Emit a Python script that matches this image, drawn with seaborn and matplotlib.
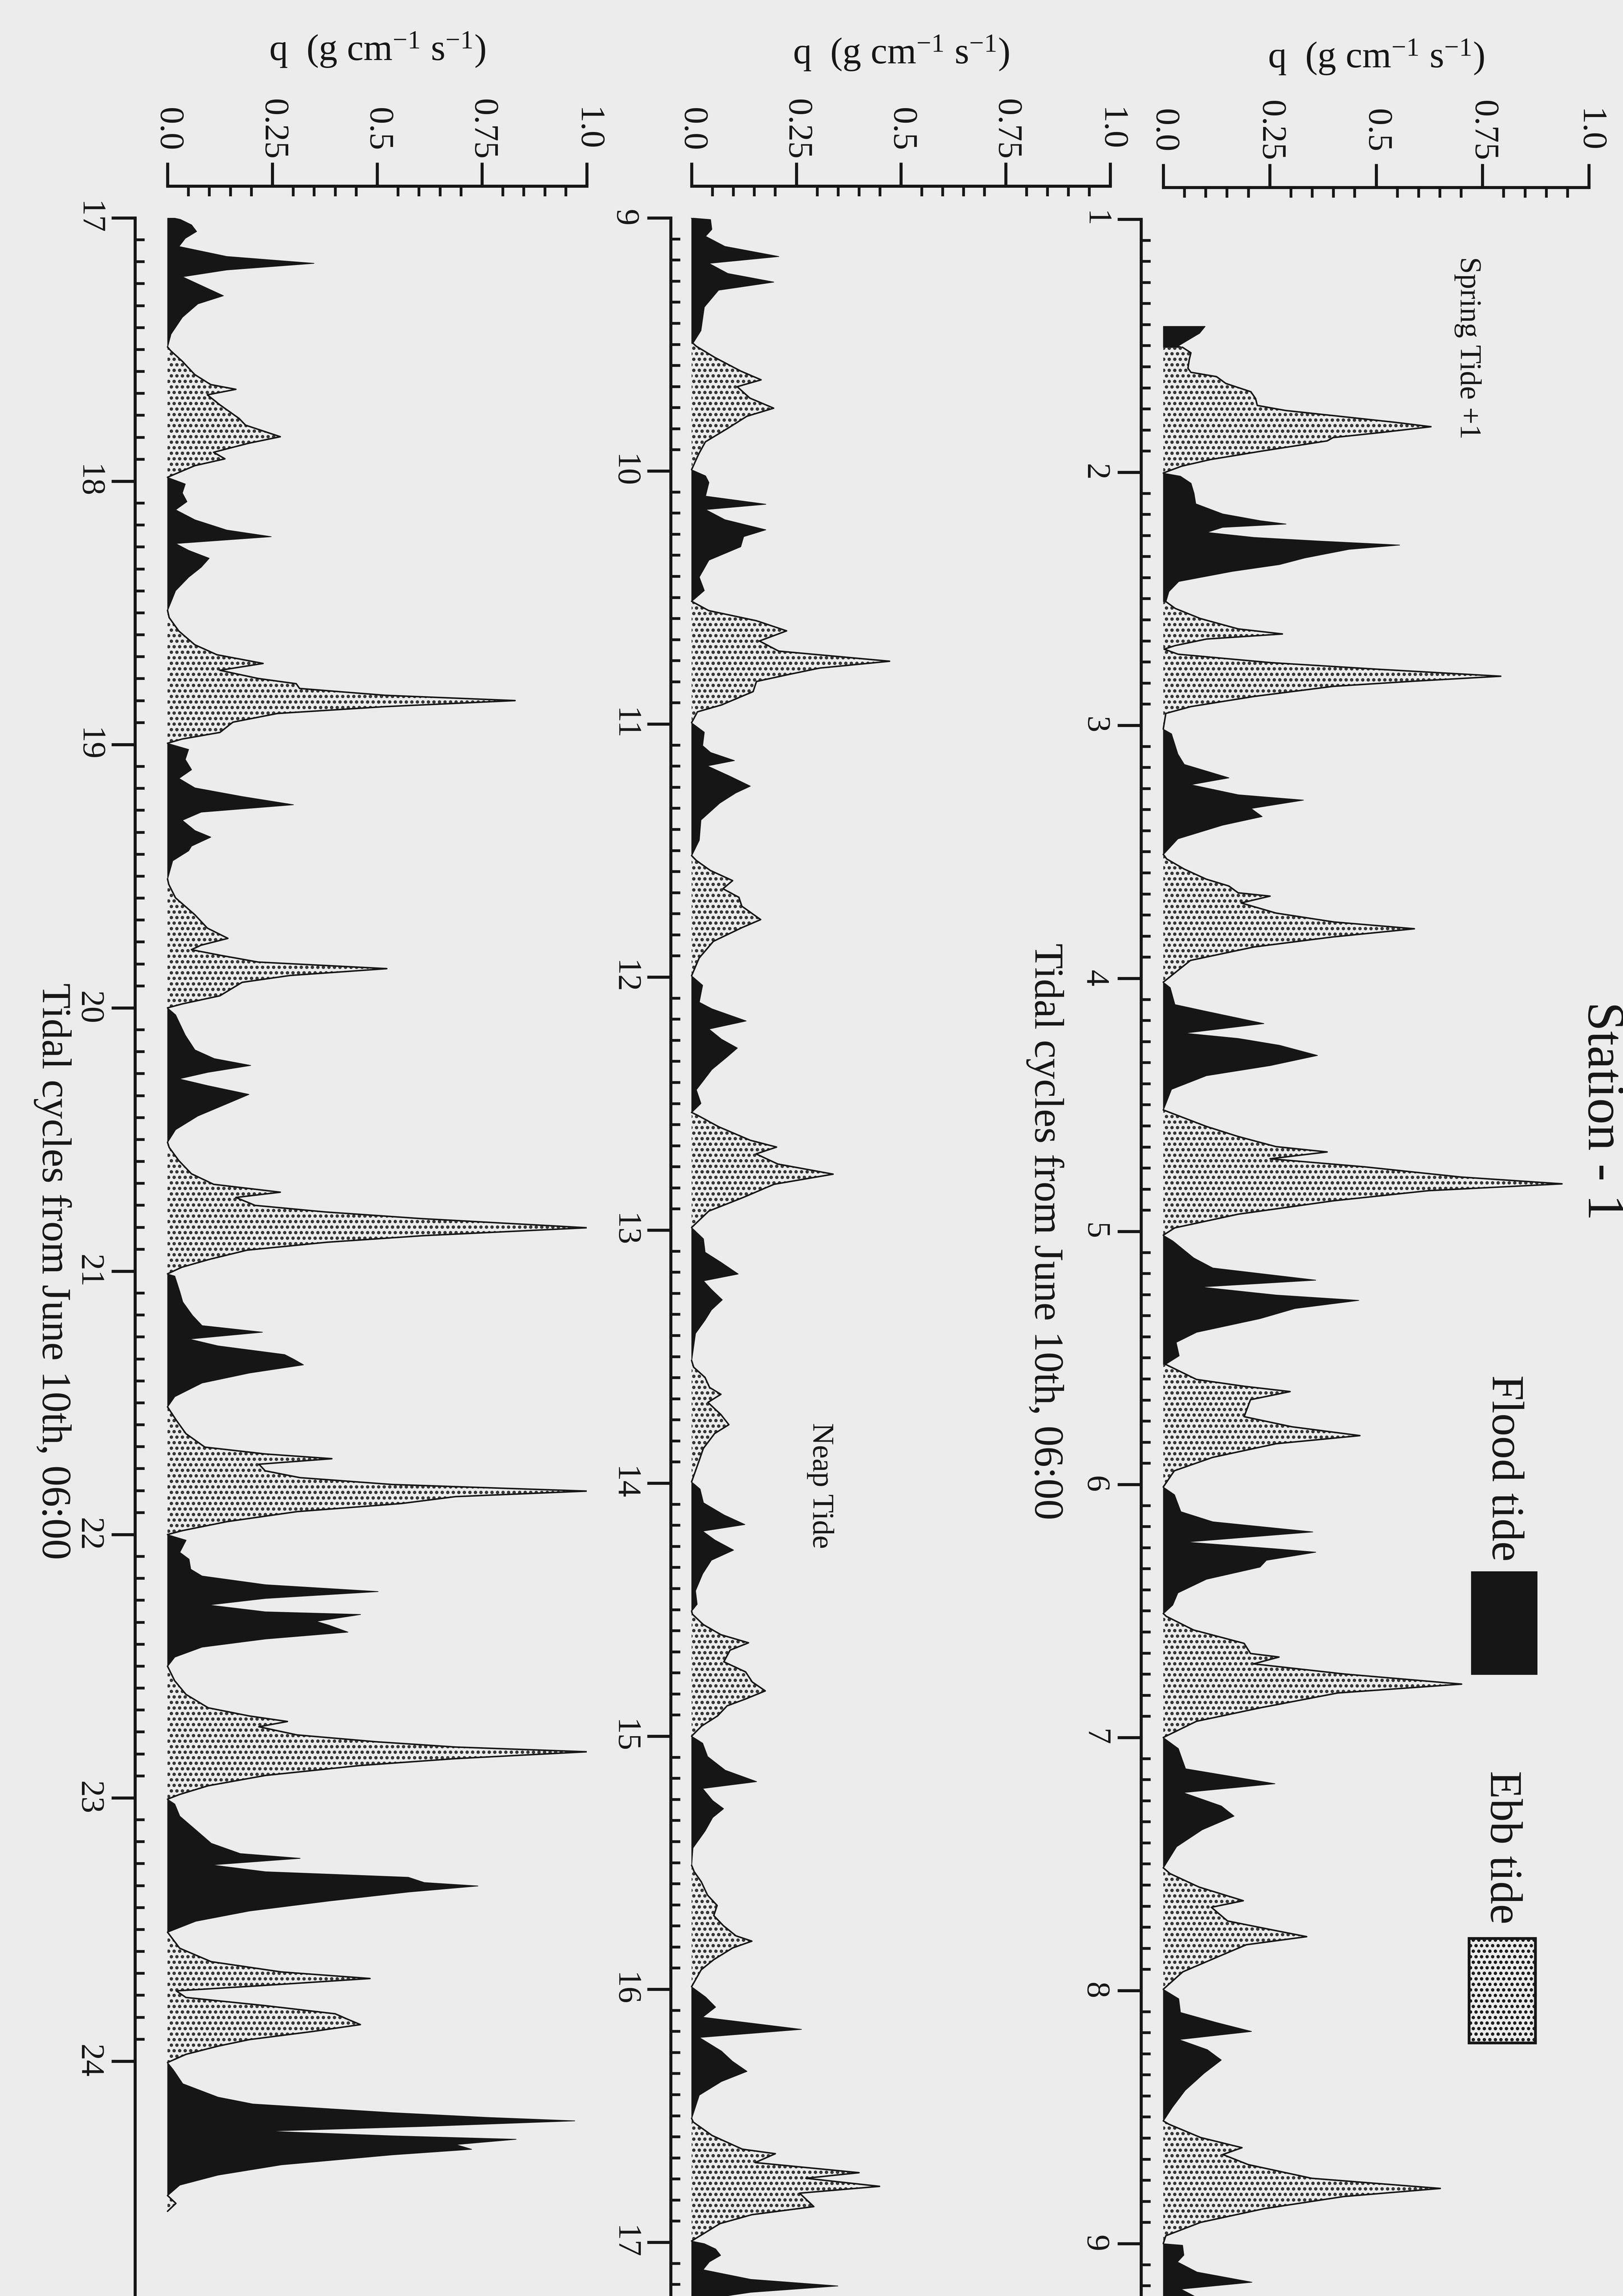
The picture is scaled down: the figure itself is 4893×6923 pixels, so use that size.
import numpy as np
import matplotlib
matplotlib.use("Agg")
import matplotlib.pyplot as plt
from matplotlib.patches import Rectangle
from matplotlib.ticker import FixedLocator, FixedFormatter
import seaborn as sns

# Sediment transport rate q (g cm-1 s-1) against time in tidal cycles
# (cycle 1 = June 10th, 06:00).  One line per flood or ebb half-cycle.
cycle_a = [
    1.423, 1.45, 1.475, 1.50, 1.506, 1.528, 1.555, 1.589, 1.605, 1.622, 1.649, 1.682, 1.709, 1.736, 1.756, 1.776, 1.803, 1.820, 1.843, 1.863, 1.876, 1.917, 1.950, 1.976, 2.003,
    2.015, 2.043, 2.083, 2.124, 2.164, 2.191, 2.204, 2.217, 2.237, 2.257, 2.271, 2.287, 2.304, 2.338, 2.364, 2.391, 2.431, 2.471, 2.511,
    2.538, 2.578, 2.619, 2.639, 2.659, 2.685, 2.699, 2.719, 2.752, 2.779, 2.806, 2.826, 2.846, 2.886, 2.926, 2.953, 3.015,
    3.033, 3.113, 3.154, 3.207, 3.234, 3.274, 3.295, 3.328, 3.360, 3.394, 3.448, 3.51,
    3.528, 3.568, 3.608, 3.635, 3.662, 3.675, 3.702, 3.742, 3.777, 3.804, 3.836, 3.876, 3.929, 4.015,
    4.036, 4.103, 4.130, 4.178, 4.216, 4.237, 4.264, 4.304, 4.344, 4.384, 4.438, 4.52,
    4.585, 4.625, 4.665, 4.686, 4.713, 4.745, 4.785, 4.812, 4.839, 4.879, 4.932, 4.986, 5.015,
    5.037, 5.104, 5.144, 5.192, 5.219, 5.251, 5.272, 5.304, 5.344, 5.398, 5.438, 5.491, 5.525,
    5.585, 5.612, 5.633, 5.665, 5.732, 5.772, 5.807, 5.839, 5.893, 5.946, 6.01,
    6.04, 6.107, 6.147, 6.187, 6.227, 6.254, 6.267, 6.299, 6.326, 6.374, 6.428, 6.476, 6.51,
    6.521, 6.575, 6.628, 6.668, 6.682, 6.709, 6.749, 6.789, 6.824, 6.883, 6.936, 7.0,
    7.043, 7.123, 7.182, 7.217, 7.27, 7.31, 7.364, 7.431, 7.515,
    7.538, 7.591, 7.645, 7.671, 7.725, 7.765, 7.787, 7.819, 7.872, 7.926, 7.995,
    8.032, 8.086, 8.126, 8.161, 8.193, 8.233, 8.274, 8.327, 8.394, 8.461, 8.515,
    8.528, 8.581, 8.621, 8.648, 8.688, 8.742, 8.782, 8.814, 8.862, 8.916, 8.969,
]
q_a = [
    0.098, 0.085, 0.06, 0.035, 0.045, 0.065, 0.061, 0.058, 0.065, 0.125, 0.147, 0.206, 0.217, 0.221, 0.288, 0.399, 0.547, 0.629, 0.511, 0.399, 0.385, 0.229, 0.110, 0.043, 0.0,
    0.04, 0.065, 0.072, 0.076, 0.139, 0.228, 0.288, 0.139, 0.102, 0.213, 0.362, 0.555, 0.436, 0.332, 0.273, 0.162, 0.036, 0.013, 0.006,
    0.028, 0.087, 0.176, 0.280, 0.102, 0.028, 0.002, 0.035, 0.25, 0.510, 0.793, 0.585, 0.399, 0.213, 0.065, 0.006, 0.0,
    0.019, 0.034, 0.049, 0.154, 0.064, 0.176, 0.329, 0.206, 0.232, 0.139, 0.034, 0.0,
    0.008, 0.049, 0.101, 0.154, 0.176, 0.251, 0.183, 0.265, 0.400, 0.590, 0.400, 0.213, 0.064, 0.0,
    0.016, 0.027, 0.101, 0.236, 0.049, 0.176, 0.273, 0.362, 0.251, 0.101, 0.019, 0.0,
    0.101, 0.176, 0.265, 0.385, 0.251, 0.474, 0.698, 0.937, 0.623, 0.400, 0.176, 0.027, 0.0,
    0.022, 0.071, 0.116, 0.358, 0.086, 0.265, 0.459, 0.309, 0.227, 0.078, 0.030, 0.037, 0.005,
    0.078, 0.190, 0.298, 0.205, 0.190, 0.302, 0.462, 0.265, 0.116, 0.026, 0.0,
    0.026, 0.041, 0.116, 0.351, 0.052, 0.265, 0.358, 0.242, 0.227, 0.101, 0.034, 0.022, 0.0,
    0.007, 0.071, 0.190, 0.205, 0.272, 0.212, 0.425, 0.701, 0.410, 0.227, 0.078, 0.0,
    0.035, 0.052, 0.262, 0.046, 0.136, 0.166, 0.091, 0.031, 0.0,
    0.016, 0.084, 0.188, 0.113, 0.151, 0.270, 0.337, 0.195, 0.121, 0.046, 0.0,
    0.036, 0.040, 0.125, 0.207, 0.036, 0.103, 0.136, 0.095, 0.051, 0.021, 0.0,
    0.013, 0.088, 0.185, 0.140, 0.200, 0.349, 0.651, 0.424, 0.237, 0.088, 0.006,
]
cycle_b = [
    9.0, 9.006, 9.045, 9.072, 9.112, 9.152, 9.179, 9.219, 9.253, 9.285, 9.352, 9.445, 9.495,
    9.507, 9.552, 9.605, 9.64, 9.667, 9.712, 9.752, 9.784, 9.832, 9.885, 9.933, 9.995,
    10.019, 10.045, 10.099, 10.131, 10.152, 10.192, 10.232, 10.259, 10.299, 10.352, 10.419, 10.472, 10.515,
    10.525, 10.552, 10.592, 10.632, 10.672, 10.712, 10.752, 10.779, 10.805, 10.832, 10.872, 10.925, 10.952, 10.995,
    11.032, 11.085, 11.112, 11.144, 11.165, 11.205, 11.245, 11.272, 11.312, 11.379, 11.459, 11.52,
    11.539, 11.579, 11.619, 11.651, 11.685, 11.72, 11.773, 11.805, 11.859, 11.925, 11.995,
    12.032, 12.099, 12.125, 12.173, 12.205, 12.245, 12.28, 12.317, 12.365, 12.445, 12.499, 12.535,
    12.547, 12.592, 12.645, 12.672, 12.699, 12.739, 12.779, 12.819, 12.872, 12.925, 12.99,
    13.034, 13.087, 13.127, 13.173, 13.2, 13.234, 13.275, 13.315, 13.355, 13.408, 13.515,
    13.542, 13.582, 13.622, 13.649, 13.681, 13.729, 13.769, 13.804, 13.863, 13.916, 13.995,
    14.023, 14.077, 14.125, 14.163, 14.189, 14.224, 14.264, 14.304, 14.358, 14.425, 14.478, 14.505,
    14.518, 14.559, 14.599, 14.631, 14.66, 14.706, 14.746, 14.786, 14.821, 14.853, 14.88, 14.92, 14.96, 15.0,
    15.027, 15.08, 15.134, 15.179, 15.206, 15.254, 15.286, 15.321, 15.374, 15.441, 15.51,
    15.535, 15.575, 15.628, 15.669, 15.709, 15.749, 15.789, 15.81, 15.837, 15.883, 15.923, 15.99,
    16.03, 16.07, 16.11, 16.158, 16.19, 16.244, 16.284, 16.324, 16.364, 16.418, 16.51,
    16.525, 16.578, 16.632, 16.65, 16.685, 16.725, 16.747, 16.779, 16.806, 16.859, 16.891, 16.926, 16.995,
]
q_b = [
    0.0, 0.045, 0.048, 0.033, 0.079, 0.208, 0.041, 0.086, 0.196, 0.064, 0.030, 0.022, 0.003,
    0.011, 0.056, 0.117, 0.166, 0.109, 0.139, 0.196, 0.132, 0.086, 0.033, 0.017, 0.0,
    0.033, 0.041, 0.033, 0.177, 0.033, 0.079, 0.177, 0.124, 0.117, 0.041, 0.018, 0.030, 0.0,
    0.011, 0.041, 0.155, 0.227, 0.162, 0.208, 0.473, 0.306, 0.230, 0.155, 0.147, 0.071, 0.014, 0.0,
    0.03, 0.026, 0.045, 0.102, 0.037, 0.09, 0.140, 0.105, 0.067, 0.022, 0.018, 0.0,
    0.011, 0.045, 0.098, 0.075, 0.113, 0.120, 0.165, 0.120, 0.052, 0.018, 0.0,
    0.026, 0.018, 0.048, 0.130, 0.041, 0.071, 0.109, 0.083, 0.048, 0.011, 0.022, 0.0,
    0.015, 0.065, 0.140, 0.203, 0.154, 0.206, 0.338, 0.197, 0.122, 0.041, 0.0,
    0.028, 0.032, 0.07, 0.111, 0.028, 0.047, 0.073, 0.047, 0.032, 0.009, 0.0,
    0.005, 0.032, 0.043, 0.07, 0.039, 0.07, 0.089, 0.055, 0.028, 0.017, 0.0,
    0.02, 0.028, 0.077, 0.127, 0.026, 0.055, 0.1, 0.047, 0.026, 0.009, 0.013, 0.0,
    0.002, 0.028, 0.07, 0.136, 0.092, 0.077, 0.129, 0.145, 0.176, 0.129, 0.085, 0.062, 0.024, 0.0,
    0.026, 0.038, 0.08, 0.155, 0.026, 0.05, 0.076, 0.05, 0.032, 0.003, 0.0,
    0.006, 0.023, 0.038, 0.061, 0.053, 0.076, 0.106, 0.144, 0.098, 0.053, 0.023, 0.0,
    0.033, 0.057, 0.026, 0.262, 0.018, 0.071, 0.097, 0.132, 0.071, 0.018, 0.0,
    0.004, 0.049, 0.121, 0.2, 0.152, 0.4, 0.273, 0.449, 0.258, 0.292, 0.144, 0.068, 0.0,
]
cycle_c = [
    17.005, 17.026, 17.051, 17.077, 17.108, 17.146, 17.172, 17.197, 17.223, 17.262, 17.295, 17.326, 17.377, 17.441, 17.49,
    17.505, 17.544, 17.595, 17.633, 17.651, 17.672, 17.71, 17.762, 17.787, 17.831, 17.856, 17.89, 17.915, 17.941, 17.985,
    18.01, 18.044, 18.077, 18.108, 18.146, 18.185, 18.21, 18.236, 18.262, 18.292, 18.326, 18.364, 18.415, 18.49,
    18.518, 18.569, 18.621, 18.659, 18.692, 18.718, 18.749, 18.769, 18.787, 18.813, 18.833, 18.856, 18.882, 18.915, 18.954, 18.979, 18.995,
    19.018, 19.056, 19.095, 19.128, 19.164, 19.197, 19.228, 19.256, 19.287, 19.326, 19.351, 19.385, 19.403, 19.441, 19.51,
    19.531, 19.582, 19.646, 19.697, 19.736, 19.762, 19.779, 19.8, 19.826, 19.851, 19.877, 19.903, 19.954, 19.985, 20.0,
    20.026, 20.103, 20.159, 20.192, 20.218, 20.244, 20.269, 20.295, 20.328, 20.359, 20.41, 20.462, 20.51,
    20.53, 20.58, 20.63, 20.67, 20.70, 20.72, 20.75, 20.775, 20.80, 20.835, 20.865, 20.89, 20.92, 20.955, 20.985, 21.01,
    21.018, 21.077, 21.116, 21.167, 21.206, 21.231, 21.257, 21.283, 21.316, 21.334, 21.355, 21.386, 21.424, 21.476, 21.515,
    21.566, 21.617, 21.668, 21.694, 21.712, 21.733, 21.758, 21.784, 21.81, 21.835, 21.856, 21.882, 21.913, 21.951, 21.985, 22.0,
    22.021, 22.067, 22.093, 22.131, 22.157, 22.19, 22.216, 22.242, 22.267, 22.293, 22.303, 22.329, 22.344, 22.37, 22.396, 22.427, 22.465, 22.5,
    22.555, 22.607, 22.658, 22.689, 22.71, 22.73, 22.761, 22.787, 22.807, 22.825, 22.851, 22.877, 22.915, 22.954, 22.987, 23.005,
    23.023, 23.069, 23.121, 23.172, 23.211, 23.229, 23.254, 23.28, 23.301, 23.321, 23.334, 23.357, 23.391, 23.429, 23.468, 23.51,
    23.571, 23.622, 23.661, 23.686, 23.712, 23.733, 23.758, 23.789, 23.82, 23.841, 23.861, 23.887, 23.918, 23.943, 23.974, 24.005,
    24.033, 24.085, 24.136, 24.162, 24.195, 24.213, 24.226, 24.247, 24.265, 24.283, 24.296, 24.316, 24.334, 24.355, 24.393, 24.432, 24.47, 24.51,
    24.54, 24.57,
]
q_c = [
    0.03, 0.057, 0.069, 0.042, 0.027, 0.141, 0.349, 0.141, 0.035, 0.088, 0.133, 0.072, 0.035, 0.008, 0.0,
    0.008, 0.035, 0.065, 0.103, 0.163, 0.095, 0.125, 0.171, 0.186, 0.269, 0.193, 0.110, 0.137, 0.065, 0.0,
    0.042, 0.035, 0.046, 0.019, 0.065, 0.141, 0.247, 0.019, 0.050, 0.099, 0.080, 0.050, 0.019, 0.0,
    0.004, 0.027, 0.065, 0.118, 0.228, 0.125, 0.216, 0.307, 0.315, 0.519, 0.829, 0.519, 0.262, 0.156, 0.125, 0.035, 0.0,
    0.05, 0.042, 0.057, 0.027, 0.065, 0.178, 0.3, 0.080, 0.035, 0.065, 0.103, 0.057, 0.050, 0.012, 0.0,
    0.003, 0.019, 0.065, 0.095, 0.144, 0.08, 0.057, 0.125, 0.216, 0.523, 0.292, 0.178, 0.125, 0.035, 0.0,
    0.019, 0.042, 0.065, 0.111, 0.198, 0.096, 0.027, 0.096, 0.194, 0.148, 0.072, 0.019, 0.0,
    0.004, 0.027, 0.057, 0.110, 0.269, 0.163, 0.209, 0.376, 0.603, 1.0, 0.61, 0.38, 0.19, 0.10, 0.034, 0.0,
    0.017, 0.029, 0.036, 0.059, 0.082, 0.226, 0.051, 0.12, 0.279, 0.301, 0.324, 0.195, 0.082, 0.017, 0.0,
    0.021, 0.044, 0.089, 0.233, 0.392, 0.218, 0.233, 0.316, 0.536, 1.0, 0.687, 0.559, 0.309, 0.142, 0.036, 0.0,
    0.044, 0.029, 0.051, 0.055, 0.082, 0.233, 0.502, 0.233, 0.097, 0.233, 0.46, 0.354, 0.385, 0.43, 0.233, 0.082, 0.017, 0.0,
    0.017, 0.044, 0.097, 0.195, 0.286, 0.218, 0.309, 0.498, 0.687, 1.0, 0.687, 0.46, 0.233, 0.097, 0.029, 0.0,
    0.017, 0.029, 0.067, 0.104, 0.173, 0.316, 0.104, 0.233, 0.574, 0.612, 0.74, 0.574, 0.385, 0.195, 0.067, 0.0,
    0.029, 0.104, 0.271, 0.483, 0.233, 0.021, 0.044, 0.233, 0.4, 0.43, 0.46, 0.347, 0.195, 0.12, 0.044, 0.0,
    0.014, 0.036, 0.12, 0.203, 0.536, 0.763, 0.971, 0.612, 0.233, 0.536, 0.831, 0.687, 0.725, 0.536, 0.271, 0.12, 0.029, 0.0,
    0.02, 0.0,
]

# Times at which the flow turns to flood or to ebb
flood_onsets = [1.423, 2.003, 3.015, 4.015, 5.015, 6.01, 7.0, 7.995, 9.0, 9.995, 10.995, 11.995,
                12.99, 13.995, 15.0, 15.99, 16.995, 17.985, 18.995, 20.0, 21.01, 22.0, 23.005, 24.005]
ebb_onsets = [1.506, 2.511, 3.51, 4.52, 5.525, 6.51, 7.515, 8.515, 9.495, 10.515, 11.52, 12.535,
              13.515, 14.505, 15.51, 16.51, 17.49, 18.49, 19.51, 20.51, 21.515, 22.5, 23.51, 24.51]

q_ticks = [0.0, 0.25, 0.5, 0.75, 1.0]
q_tick_labels = ["0.0", "0.25", "0.5", "0.75", "1.0"]

# ---------------------------------------------------------------------------
W, H, DPI = 4893, 6923, 300
PAPER = "#ececec"
INK = "#161616"
STIPPLE = "#303030"

sns.set_theme(style="ticks")
plt.rcParams.update({
    "font.family": ["Liberation Serif", "DejaVu Serif"],
    "mathtext.fontset": "custom",
    "mathtext.rm": "Liberation Serif",
    "mathtext.it": "Liberation Serif:italic",
    "hatch.linewidth": 1.6,
    "axes.linewidth": 2.2,
    "text.color": INK,
    "axes.labelcolor": INK,
    "xtick.color": INK,
    "ytick.color": INK,
})

t_all = np.array(cycle_a + cycle_b + cycle_c)
q_all = np.array(q_a + q_b + q_c)

# split the record into flood and ebb half-cycles
turns = sorted([(t, "flood") for t in flood_onsets] + [(t, "ebb") for t in ebb_onsets])
segments = []
for i, (start, kind) in enumerate(turns):
    end = turns[i + 1][0] if i + 1 < len(turns) else t_all[-1]
    inner = t_all[(t_all > start) & (t_all < end)]
    ts = np.concatenate([[start], inner, [end]])
    segments.append((kind, ts, np.interp(ts, t_all, q_all)))

fig = plt.figure(figsize=(W / DPI, H / DPI), dpi=DPI, facecolor=PAPER)

# left spine x, q=0 x, q=1 x, top y, first cycle, px per cycle, last minor tick, title x, q-label y
panel_specs = [
    (3440, 3507, 4790, 661, 1, 763, 9.4, 3150, 172),
    (2022, 2085, 3347, 657, 9, 763, 17.4, None, 160),
    (407, 505, 1769, 657, 17, 794, 24.0, 158, 150),
]

axes = []
for x_axis, x0, x1, top, c0, ppc, minor_end, title_x, qlab_y in panel_specs:
    ax = fig.add_axes([x_axis / W, 0.0, (x1 - x_axis) / W, 1 - top / H])
    ax.set_facecolor("none")

    for kind, ts, qs in segments:
        if kind == "flood":
            ax.fill_betweenx(ts, 0, qs, facecolor=INK, edgecolor=INK, linewidth=0.5)
        else:
            ax.fill_betweenx(ts, 0, qs, facecolor="none", edgecolor=STIPPLE,
                             hatch="...", linewidth=0)
            sns.lineplot(x=qs, y=ts, sort=False, estimator=None, color=INK,
                         linewidth=1.1, ax=ax)

    q_lo = (x_axis - x0) / (x1 - x0)
    c_end = c0 + (H - top) / ppc
    ax.set_xlim(q_lo, 1.0)
    ax.set_ylim(c_end, c0)

    ax.spines["right"].set_visible(False)
    ax.spines["bottom"].set_visible(False)
    ax.spines["top"].set_position(("outward", 23))
    ax.spines["top"].set_bounds(0, 1)
    for s in ("top", "left"):
        ax.spines[s].set_color(INK)
        ax.spines[s].set_linewidth(2.2)

    ax.xaxis.tick_top()
    ax.xaxis.set_label_position("top")
    ax.xaxis.set_major_locator(FixedLocator(q_ticks))
    ax.xaxis.set_major_formatter(FixedFormatter(q_tick_labels))
    ax.xaxis.set_minor_locator(FixedLocator(np.round(np.arange(0, 1.0001, 0.05), 3)))
    ax.tick_params(axis="x", which="major", direction="out", length=17, width=2.2,
                   pad=24, labelsize=25, labelrotation=-90)
    ax.tick_params(axis="x", which="minor", direction="in", length=7.5, width=2.0)

    majors = list(range(c0, int(np.floor(min(c_end, minor_end))) + 1))
    minors = [v for v in np.arange(c0, minor_end + 1e-9, 1 / 12)
              if abs(v - round(v)) > 1e-6]
    ax.yaxis.set_major_locator(FixedLocator(majors))
    ax.yaxis.set_minor_locator(FixedLocator(minors))
    ax.tick_params(axis="y", which="major", direction="out", length=17, width=2.2,
                   pad=6, labelsize=24, labelrotation=-90)
    ax.tick_params(axis="y", which="minor", direction="in", length=7, width=2.0)
    for lab in ax.get_xticklabels():
        lab.set_va("center")
    for lab in ax.get_yticklabels():
        lab.set_va("center")

    ax.set_xlabel(r"q  (g cm$^{\mathregular{-1}}$ s$^{\mathregular{-1}}$)",
                  fontsize=27, va="center", ha="center")
    ax.xaxis.set_label_coords(0.5, 1 + (top - qlab_y) / (H - top),
                              transform=ax.get_xaxis_transform())
    if title_x is not None:
        ax.set_ylabel("Tidal cycles from June 10th, 06:00", rotation=-90,
                      fontsize=30, va="center", ha="center")
        ax.yaxis.set_label_coords((title_x - x_axis) / (x1 - x_axis), c0 + 4,
                                  transform=ax.get_yaxis_transform())
    else:
        ax.set_ylabel("")
    axes.append(ax)

ax1, ax2, ax3 = axes
ax1.text(0.716, 1.509, "Spring Tide +1", rotation=-90, ha="center", va="center", fontsize=22)
ax2.text(0.308, 14.01, "Neap Tide", rotation=-90, ha="center", va="center", fontsize=22)

fig.text(4827 / W, 1 - 3350 / H, "Station - 1", rotation=-90, ha="center", va="center",
         fontsize=38)

# legend: flood (solid) and ebb (stippled) swatches
fig.text(4532 / W, 1 - 4427 / H, "Flood tide", rotation=-90, ha="center", va="center",
         fontsize=33)
fig.add_artist(Rectangle((4437 / W, 1 - 5048 / H), 196 / W, 308 / H,
                         transform=fig.transFigure, facecolor=INK, edgecolor=INK, lw=1))
fig.text(4527 / W, 1 - 5570 / H, "Ebb tide", rotation=-90, ha="center", va="center",
         fontsize=33)
fig.add_artist(Rectangle((4429 / W, 1 - 6160 / H), 200 / W, 315 / H,
                         transform=fig.transFigure, facecolor="none", edgecolor=INK,
                         hatch="...", lw=2.0))

fig.savefig("out.png", dpi=DPI, facecolor=PAPER)
